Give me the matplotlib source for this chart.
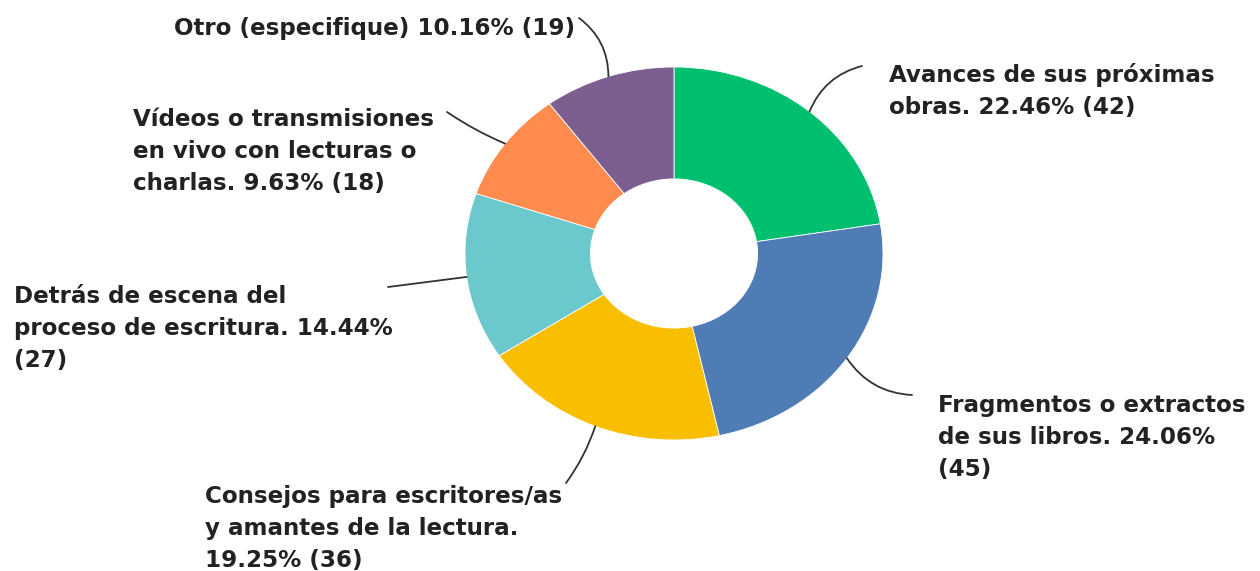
import numpy as np
import matplotlib.pyplot as plt

# Respuestas por tipo de contenido (los saltos de línea siguen el maquetado)
categorias = ['Avances de sus próximas\nobras.',
              'Fragmentos o extractos\nde sus libros.',
              'Consejos para escritores/as\ny amantes de la lectura.',
              'Detrás de escena del\nproceso de escritura.',
              'Vídeos o transmisiones\nen vivo con lecturas o\ncharlas.',
              'Otro (especifique)']
respuestas = [42, 45, 36, 27, 18, 19]
porcentajes = ['22.46', '24.06', '19.25', '14.44', '9.63', '10.16']
colores = ['#00BF6F', '#507CB6', '#F9BE00', '#6BC8CD', '#FF8B4F', '#7D5E90']
# separador entre el porcentaje y el número de respuestas
sep_pct = [' ', ' ', '\n', ' ', ' ', ' ']
sep_num = [' ', '\n', ' ', '\n', ' ', ' ']

# Línea base de la primera fila de cada etiqueta y extremo de su guía (px)
pos_texto = [(889, 82), (938, 412), (205, 503), (14, 303), (133, 126), (174, 35)]
fin_guia = [(862, 66), (912, 395), (566, 483), (388, 287), (447, 112), (579, 18)]
curvas = [0.25, -0.25, 0.08, 0.0, 0.05, -0.25]
interlineado = 32

W, H = 1260, 571
fig = plt.figure(figsize=(W / 100, H / 100), dpi=100)
ax = fig.add_axes([465 / W, (H - 440) / H, 418 / W, 373 / H])

ax.pie(respuestas, colors=colores, startangle=90, counterclock=False,
       radius=1, wedgeprops=dict(width=0.6, edgecolor='white', linewidth=0.6))
ax.set_aspect('auto')
ax.set_xlim(-1, 1)
ax.set_ylim(-1, 1)
ax.axis('off')

total = sum(respuestas)
acumulado = np.cumsum([0] + respuestas)
for i, valor in enumerate(respuestas):
    medio = (acumulado[i] + valor / 2) / total
    ang = np.deg2rad(90 - medio * 360)
    x, y = np.cos(ang), np.sin(ang)
    fx, fy = fin_guia[i]
    ax.annotate('', xy=(x, y), xycoords='data',
                xytext=(fx, H - fy), textcoords='figure pixels',
                arrowprops=dict(arrowstyle='-', color='#333333', lw=1.3,
                                shrinkA=0, shrinkB=0,
                                connectionstyle=f'arc3,rad={curvas[i]}'))
    etiqueta = (categorias[i] + sep_pct[i] + porcentajes[i] + '%'
                + sep_num[i] + f'({valor})')
    tx, ty = pos_texto[i]
    # cada fila por separado para fijar el interlineado en píxeles
    for j, fila in enumerate(etiqueta.split('\n')):
        fig.text(tx / W, (H - ty - j * interlineado) / H, fila,
                 ha='left', va='baseline', fontsize=16.6, fontweight='bold',
                 family='DejaVu Sans', color='#222222')

fig.savefig('out.png', dpi=100, facecolor='white')
